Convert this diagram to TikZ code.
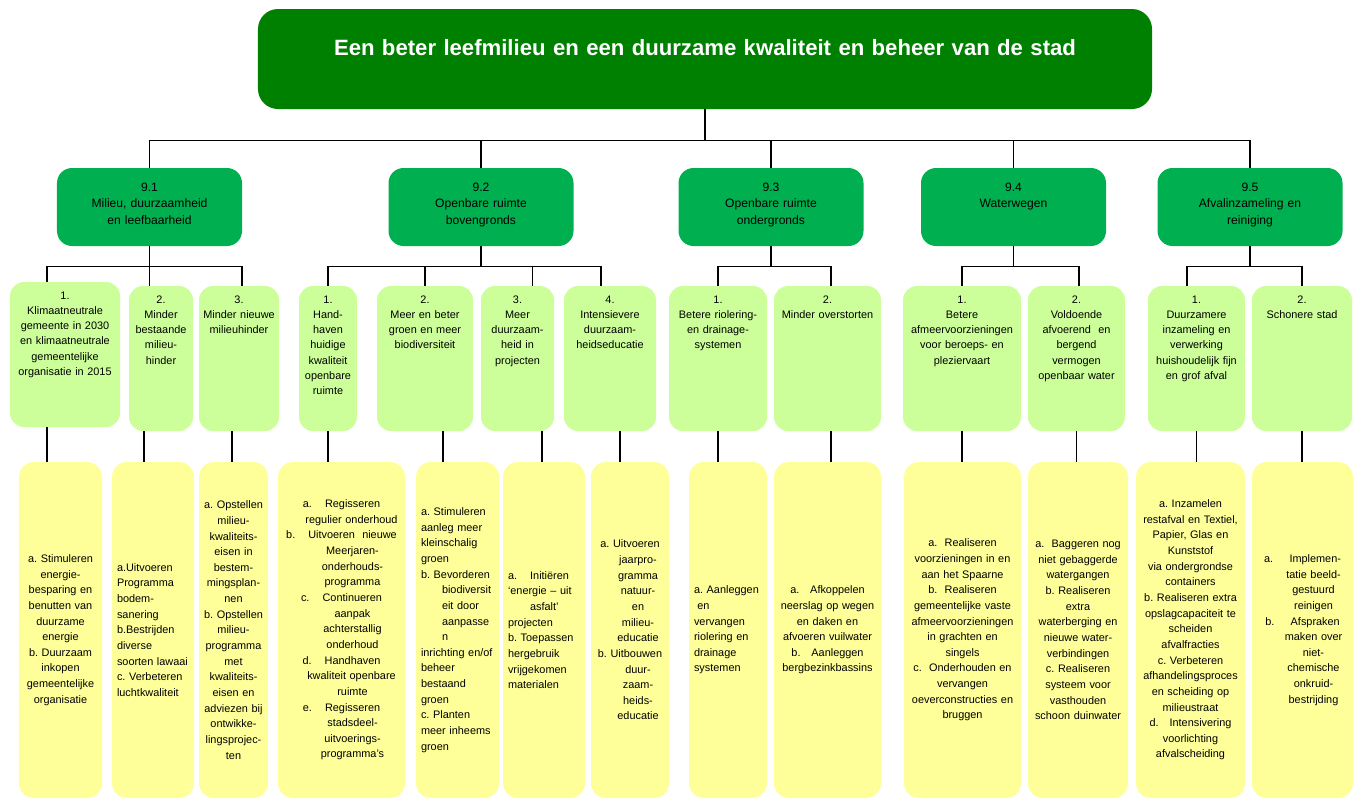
\documentclass[tikz,border=0pt]{standalone}
\usepackage{fontspec}
\setmainfont{Liberation Sans}
\usetikzlibrary{calc}

\definecolor{topgreen}{RGB}{0,128,0}
\definecolor{themegreen}{RGB}{0,176,80}
\definecolor{goalgreen}{RGB}{204,255,153}
\definecolor{taskyellow}{RGB}{255,255,153}

% shifted continuation line inside a list box
\newcommand{\shiftln}[1][3mm]{\hspace*{#1}}

\begin{document}
\frenchspacing
\begin{tikzpicture}[x=0.2mm, y=-0.2mm,
    mainbox/.style={fill=topgreen, rounded corners=4mm, text=white, inner sep=0pt, align=center,
        font={\fontsize{12.6}{14}\selectfont\bfseries}, text width=178.8mm, text height=9.2mm, text depth=10.8mm},
    themebox/.style={fill=themegreen, rounded corners=3mm, inner sep=0pt, align=center,
        font={\fontsize{6.9}{9.6}\selectfont}, text width=37mm, text height=4.6mm, text depth=11mm},
    goalbox/.style={fill=goalgreen, rounded corners=2.8mm, inner sep=0pt, align=center,
        font={\fontsize{6.2}{8.7}\selectfont}, text width=#1, text height=3.4mm, text depth=25.6mm},
    taskbox/.style={fill=taskyellow, rounded corners=3mm, inner xsep=0.6mm, inner ysep=0pt, align=center,
        font={\fontsize{6.2}{8.9}\selectfont}, text width=#1, minimum height=67.2mm},
    link/.style={draw=black, line width=0.7pt}
]
    \useasboundingbox (0,0) rectangle (1359,800);

    % Main goal
    \node[mainbox] (main) at (705,59) {Een beter leefmilieu en een duurzame kwaliteit en beheer van de stad};

    % Themes
    \node[themebox] (t91) at (149.5,207) {9.1\\Milieu, duurzaamheid\\en leefbaarheid};
    \node[themebox] (t92) at (481,207) {9.2\\Openbare ruimte\\bovengronds};
    \node[themebox] (t93) at (771,207) {9.3\\Openbare ruimte\\ondergronds};
    \node[themebox] (t94) at (1013.5,207) {9.4\\Waterwegen};
    \node[themebox] (t95) at (1250,207) {9.5\\Afvalinzameling en\\reiniging};

    % Goals
    \node[goalbox=22mm] (g11) at (65,354.5) {1.\\Klimaatneutrale\\gemeente in 2030\\en klimaatneutrale\\gemeentelijke\\organisatie in 2015};
    \node[goalbox=12.8mm] (g12) at (161,358.5) {2.\\Minder\\bestaande\\milieu-\\hinder};
    \node[goalbox=16mm] (g13) at (239,358.5) {3.\\Minder nieuwe\\milieuhinder};
    \node[goalbox=11.6mm] (g21) at (328,358.5) {1.\\Hand-\\haven\\huidige\\kwaliteit\\openbare\\ruimte};
    \node[goalbox=19.2mm] (g22) at (425,358.5) {2.\\Meer en beter\\groen en meer\\biodiversiteit};
    \node[goalbox=14.6mm] (g23) at (517.5,358.5) {3.\\Meer\\duurzaam-\\heid in\\projecten};
    \node[goalbox=18.4mm] (g24) at (610,358.5) {4.\\Intensievere\\duurzaam-\\heidseducatie};
    \node[goalbox=19.6mm] (g31) at (718,358.5) {1.\\Betere riolering-\\en drainage-\\systemen};
    \node[goalbox=21.4mm] (g32) at (827.5,358.5) {2.\\Minder overstorten};
    \node[goalbox=23.6mm] (g41) at (962,358.5) {1.\\Betere\\afmeervoorzieningen\\voor beroeps- en\\pleziervaart};
    \node[goalbox=19.4mm] (g42) at (1076.5,358.5) {2.\\Voldoende\\afvoerend\ \ en\\bergend\\vermogen\\openbaar water};
    \node[goalbox=19.4mm] (g51) at (1196.5,358.5) {1.\\Duurzamere\\inzameling en\\verwerking\\huishoudelijk fijn\\en grof afval};
    \node[goalbox=20mm] (g52) at (1302,358.5) {2.\\Schonere stad};

    % Tasks
    \node[taskbox=15.4mm] (k11) at (60.5,630) {a. Stimuleren\\energie-\\besparing en\\benutten van\\duurzame\\energie\\b. Duurzaam\\inkopen\\gemeentelijke\\organisatie};
    \node[taskbox=14.4mm, align=left, inner xsep=1mm] (k12) at (153,630) {a.Uitvoeren\\Programma\\bodem-\\sanering\\b.Bestrijden\\diverse\\soorten lawaai\\c. Verbeteren\\luchtkwaliteit};
    \node[taskbox=12.6mm] (k13) at (233.5,630) {a. Opstellen\\milieu-\\kwaliteits-\\eisen in\\bestem-\\mingsplan-\\nen\\b. Opstellen\\milieu-\\programma\\met\\kwaliteits-\\eisen en\\adviezen bij\\ontwikke-\\lingsprojec-\\ten};
    \node[taskbox=24.2mm] (k21) at (341.5,630) {a.\hspace{1.2em}Regisseren\\\shiftln[4mm]regulier onderhoud\\b.\hspace{1.2em}Uitvoeren\ \ nieuwe\\\shiftln[4.4mm]Meerjaren-\\\shiftln[4.4mm]onderhouds-\\\shiftln[4.4mm]programma\\c.\hspace{1.2em}Continueren\\\shiftln[4.4mm]aanpak\\\shiftln[4.4mm]achterstallig\\\shiftln[4.4mm]onderhoud\\d.\hspace{1.2em}Handhaven\\\shiftln[4mm]kwaliteit openbare\\\shiftln[4.4mm]ruimte\\e.\hspace{1.2em}Regisseren\\\shiftln[4.4mm]stadsdeel-\\\shiftln[4.4mm]uitvoerings-\\\shiftln[4.4mm]programma’s};
    \node[taskbox=14.6mm, align=left, inner xsep=1mm] (k22) at (457.5,630) {a. Stimuleren\\aanleg meer\\kleinschalig\\groen\\b. Bevorderen\\\shiftln[4.2mm]biodiversit\\\shiftln[4.2mm]eit door\\\shiftln[4.2mm]aanpasse\\\shiftln[4.2mm]n\\inrichting en/of\\beheer\\bestaand\\groen\\c. Planten\\meer inheems\\groen};
    \node[taskbox=14.4mm, align=left, inner xsep=1mm] (k23) at (544,630) {a.\hspace{1.2em}Initiëren\\‘energie – uit\\\shiftln[4.4mm]asfalt’\\projecten\\b. Toepassen\\hergebruik\\vrijgekomen\\materialen};
    \node[taskbox=14.4mm] (k24) at (630,630) {a. Uitvoeren\\\shiftln[3.2mm]jaarpro-\\\shiftln[3.2mm]gramma\\\shiftln[3.2mm]natuur-\\\shiftln[3.2mm]en\\\shiftln[3.2mm]milieu-\\\shiftln[3.2mm]educatie\\b. Uitbouwen\\\shiftln[3.2mm]duur-\\\shiftln[3.2mm]zaam-\\\shiftln[3.2mm]heids-\\\shiftln[3.2mm]educatie};
    \node[taskbox=13.6mm, align=left, inner xsep=1mm] (k31) at (728,630) {a. Aanleggen\\\hspace*{0.3em}en\\vervangen\\riolering en\\drainage\\systemen};
    \node[taskbox=20.2mm] (k32) at (827.5,630) {a.\hspace{1em}Afkoppelen\\neerslag op wegen\\en daken en\\afvoeren vuilwater\\b.\hspace{1em}Aanleggen\\bergbezinkbassins};
    \node[taskbox=22.2mm] (k41) at (962.5,630) {a.\ \ Realiseren\\voorzieningen in en\\aan het Spaarne\\b.\ \ Realiseren\\gemeentelijke vaste\\afmeervoorzieningen\\in grachten en\\singels\\c.\ \ Onderhouden en\\vervangen\\oeverconstructies en\\bruggen};
    \node[taskbox=18.8mm] (k42) at (1078,630) {a.\ \ Baggeren nog\\niet gebaggerde\\watergangen\\b. Realiseren\\extra\\waterberging en\\nieuwe water-\\verbindingen\\c. Realiseren\\systeem voor\\vasthouden\\schoon duinwater};
    \node[taskbox=20.6mm] (k51) at (1190.5,630) {a. Inzamelen\\restafval en Textiel,\\Papier, Glas en\\Kunststof\\via ondergrondse\\containers\\b. Realiseren extra\\opslagcapaciteit te\\scheiden\\afvalfracties\\c. Verbeteren\\afhandelingsproces\\en scheiding op\\milieustraat\\d.\hspace{1em}Intensivering\\voorlichting\\afvalscheiding};
    \node[taskbox=19mm] (k52) at (1302.5,630) {a.\hspace{1.5em}Implemen-\\\shiftln[4.4mm]tatie beeld-\\\shiftln[4.4mm]gestuurd\\\shiftln[4.4mm]reinigen\\b.\hspace{1.5em}Afspraken\\\shiftln[4.4mm]maken over\\\shiftln[4.4mm]niet-\\\shiftln[4.4mm]chemische\\\shiftln[4.4mm]onkruid-\\\shiftln[4.4mm]bestrijding};

    % Main goal to themes
    \draw[link] (main.south) -- ++(0,31) coordinate (bar0);
    \draw[link] (t91.north) |- (bar0) -| (t95.north);
    \draw[link] (t92.north) -- (t92.north |- bar0);
    \draw[link] (t93.north) -- (t93.north |- bar0);
    \draw[link] (t94.north) -- (t94.north |- bar0);

    % Themes to goals
    \draw[link] (t91.south) -- ++(0,20) coordinate (bar1) -- (bar1 |- g12.north);
    \draw[link] ([xshift=-3.6mm]g11.north) |- (bar1) -| ([xshift=0.6mm]g13.north);
    \draw[link] (t92.south) -- ++(0,20) coordinate (bar2);
    \draw[link] (g21.north) |- (bar2) -| ([xshift=-1.8mm]g24.north);
    \draw[link] (g22.north) -- (g22.north |- bar2);
    \draw[link] ([xshift=3mm]g23.north) coordinate (up23) -- (up23 |- bar2);
    \draw[link] (t93.south) -- ++(0,20) coordinate (bar3);
    \draw[link] (g31.north) |- (bar3) -| ([xshift=0.7mm]g32.north);
    \draw[link] (t94.south) -- ++(0,20) coordinate (bar4);
    \draw[link] (g41.north) |- (bar4) -| ([xshift=0.5mm]g42.north);
    \draw[link] (t95.south) -- ++(0,20) coordinate (bar5);
    \draw[link] ([xshift=-1.9mm]g51.north) |- (bar5) -| (g52.north);

    % Goals to tasks
    \draw[link] ([xshift=-3.6mm]g11.south) coordinate (d11) -- (d11 |- k11.north);
    \draw[link] ([xshift=-3.4mm]g12.south) coordinate (d12) -- (d12 |- k12.north);
    \draw[link] ([xshift=-1.4mm]g13.south) coordinate (d13) -- (d13 |- k13.north);
    \draw[link] (g21.south) -- (g21.south |- k21.north);
    \draw[link] ([xshift=3.6mm]g22.south) coordinate (d22) -- (d22 |- k22.north);
    \draw[link] ([xshift=4.9mm]g23.south) coordinate (d23) -- (d23 |- k23.north);
    \draw[link] ([xshift=2mm]g24.south) coordinate (d24) -- (d24 |- k24.north);
    \draw[link] (g31.south) -- (g31.south |- k31.north);
    \draw[link] ([xshift=0.7mm]g32.south) coordinate (d32) -- (d32 |- k32.north);
    \draw[link] (g41.south) -- (g41.south |- k41.north);
    \draw[link] (g42.south) -- (g42.south |- k42.north);
    \draw[link] (g51.south) -- (g51.south |- k51.north);
    \draw[link] (g52.south) -- (g52.south |- k52.north);
\end{tikzpicture}
\end{document}
